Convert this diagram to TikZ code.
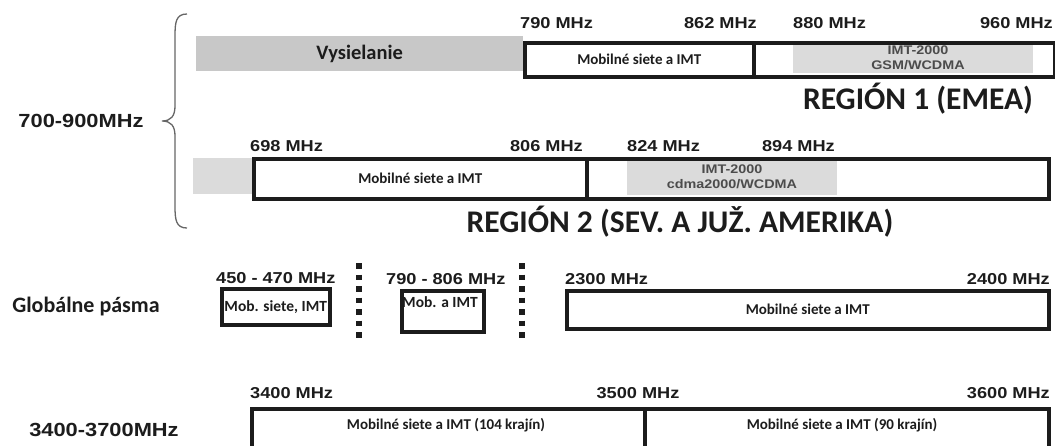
\documentclass[tikz,border=0pt]{standalone}
\usepackage{fontspec}
\setmainfont{Carlito}
\newfontfamily\labfont[FakeStretch=1.15]{Liberation Sans}
\definecolor{gA}{RGB}{200,200,200}
\definecolor{gB}{RGB}{219,219,219}
\definecolor{ink}{RGB}{28,28,28}
\tikzset{
  frame/.style={draw=ink, line width=3.5pt, inner sep=0pt, anchor=north west, font=\bfseries\fontsize{15}{18}\selectfont, text=ink},
  shade/.style={fill=#1, draw=none, inner sep=0pt, anchor=north west},
  mhz/.style={font=\labfont\bfseries\fontsize{15.8}{18}\selectfont, text=ink, inner sep=0pt},
  big/.style={font=\labfont\bfseries\fontsize{19}{22}\selectfont, text=ink, inner sep=0pt},
  imt/.style={font=\labfont\bfseries\fontsize{12.5}{15}\selectfont, text=black!70, align=center, inner sep=0pt},
  region/.style={font=\bfseries\fontsize{31.5}{36}\selectfont, text=ink, inner sep=0pt},
  side/.style={font=\bfseries\fontsize{22}{26}\selectfont, text=ink, inner sep=0pt},
  boxtext/.style={font=\bfseries\fontsize{15}{18}\selectfont, text=ink, inner sep=0pt},
  sep/.style={draw=ink, line width=5.5pt, dash pattern=on 5.5pt off 6pt},
  bracel/.style={draw=black!60, line width=1.3pt}
}
\begin{document}
\begin{tikzpicture}[x=1pt,y=-1pt]
\useasboundingbox (0,0) rectangle (1055,445);
\clip (0,0) rectangle (1055,445);

% ---------- Region 1 ----------
\node[shade=gA, minimum width=327pt, minimum height=35pt, font=\bfseries\fontsize{20.5}{24}\selectfont, text=ink] (vys) at (196,36) {Vysielanie};
\node[shade=gB, minimum width=240pt, minimum height=30pt] (g1) at (793,43) {};
\node[frame, minimum width=229pt, minimum height=34pt] (ra) at (523,41) {Mobilné siete a IMT};
\node[frame, minimum width=301pt, minimum height=34pt] (rb) at (752,41) {};
\node[imt] (rbt) at (918,58) {IMT-2000\\GSM/WCDMA};
\node[mhz, anchor=west] (l790) at (520,23) {790 MHz};
\node[mhz, anchor=east] (l862) at (757,23) {862 MHz};
\node[mhz, anchor=west] (l880) at (793,23) {880 MHz};
\node[mhz, anchor=east] (l960) at (1053,23) {960 MHz};
\node[region] (reg1) at (918,99) {REGIÓN 1 (EMEA)};

% ---------- Region 2 ----------
\node[shade=gB, minimum width=59pt, minimum height=36pt] (g2) at (193,158) {};
\node[shade=gB, minimum width=210pt, minimum height=36pt] (g3) at (627,159) {};
\node[frame, minimum width=333pt, minimum height=40pt] (rc) at (252,157) {Mobilné siete a IMT};
\node[frame, minimum width=462pt, minimum height=40pt] (rd) at (585,157) {};
\node[imt] (rdt) at (732,177) {IMT-2000\\cdma2000/WCDMA};
\node[mhz, anchor=west] (l698) at (250,146) {698 MHz};
\node[mhz, anchor=east] (l806) at (583,146) {806 MHz};
\node[mhz, anchor=west] (l824) at (627,146) {824 MHz};
\node[mhz, anchor=east] (l894) at (835,146) {894 MHz};
\node[region] (reg2) at (680,222) {REGIÓN 2 (SEV. A JUŽ. AMERIKA)};

% brace and label
\node[big] (b700) at (81,121) {700-900MHz};
\coordinate (bt) at (187,14);
\coordinate (bb) at (187,228);
\coordinate (bm) at (162,121);
\draw[bracel] (bt) .. controls (176,14) and (175,22) .. (175,36) -- (175,106)
  .. controls (175,116) and (171,121) .. (bm)
  .. controls (171,121) and (175,126) .. (175,136) -- (175,206)
  .. controls (175,220) and (176,228) .. (bb);

% ---------- Global bands ----------
\node[side] (glob) at (86,307) {Globálne pásma};
\node[mhz, anchor=west] (l450) at (216,278) {450 - 470 MHz};
\node[frame, minimum width=108pt, minimum height=36pt, font=\bfseries\fontsize{15.5}{18}\selectfont] (b450) at (220,287) {Mob. siete, IMT};
\coordinate (s1t) at (359,263);
\coordinate (s1b) at (359,338);
\draw[sep] (s1t) -- (s1b);
\node[mhz, anchor=west] (l790b) at (386,279) {790 - 806 MHz};
\node[frame, minimum width=82pt, minimum height=41pt] (b790) at (400,289) {};
\node[boxtext, font=\bfseries\fontsize{15.5}{18}\selectfont] (t790) at (440,302) {Mob. a IMT};
\coordinate (s2t) at (522,263);
\coordinate (s2b) at (522,338);
\draw[sep] (s2t) -- (s2b);
\node[mhz, anchor=west] (l2300) at (565,279) {2300 MHz};
\node[mhz, anchor=east] (l2400) at (1050,279) {2400 MHz};
\node[frame, minimum width=482pt, minimum height=38pt] (b2300) at (565,289) {Mobilné siete a IMT};

% ---------- 3400-3700 ----------
\node[big] (b3400) at (104,430) {3400-3700MHz};
\node[mhz, anchor=west] (l3400) at (250,393) {3400 MHz};
\node[mhz] (l3500) at (638,393) {3500 MHz};
\node[mhz, anchor=east] (l3600) at (1050,393) {3600 MHz};
\node[frame, minimum width=393pt, minimum height=60pt] (b34a) at (250,407) {};
\node[frame, minimum width=404pt, minimum height=60pt] (b34b) at (643,407) {};
\node[boxtext] (t34a) at (446,425) {Mobilné siete a IMT (104 krajín)};
\node[boxtext] (t34b) at (842,425) {Mobilné siete a IMT (90 krajín)};
\end{tikzpicture}
\end{document}
